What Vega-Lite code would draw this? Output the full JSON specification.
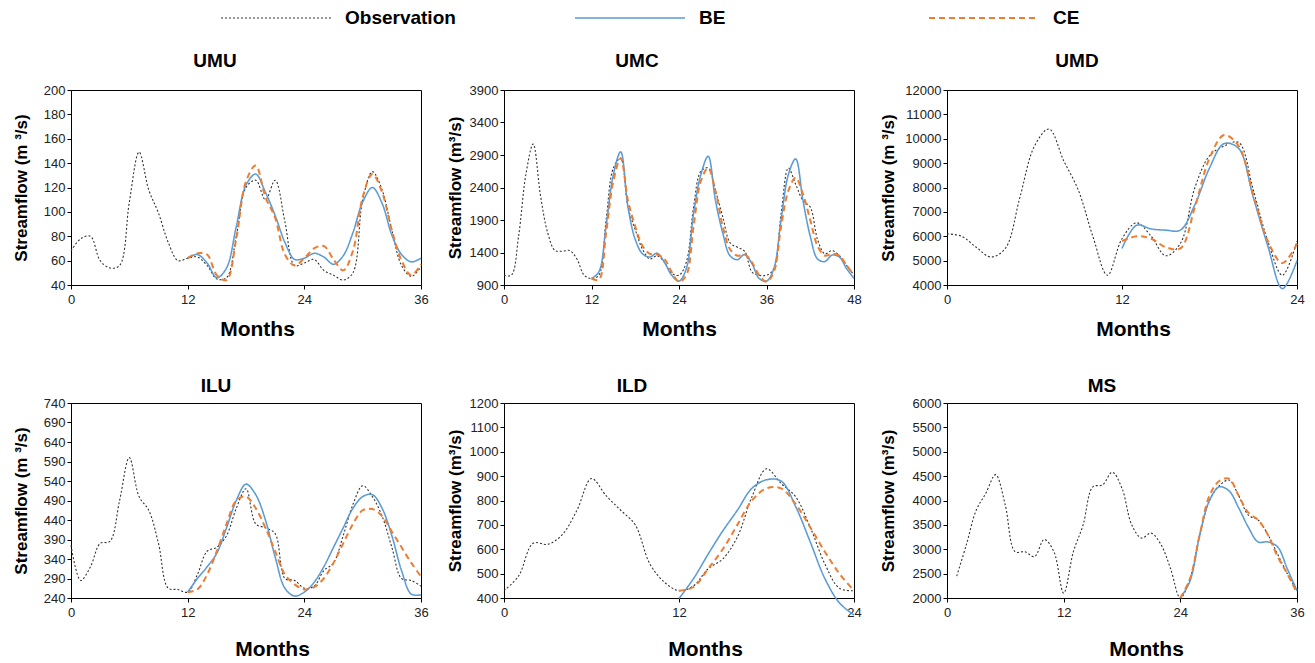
{
  "$schema": "https://vega.github.io/schema/vega-lite/v6.json",
  "background": "white",
  "padding": {"left": 11, "top": 8, "right": 5, "bottom": 5},
  "datasets": {
    "flow": [
      {"panel":"UMU","series":"Observation","month":0,"flow":68},{"panel":"UMU","series":"Observation","month":1,"flow":78},{"panel":"UMU","series":"Observation","month":2,"flow":80},{"panel":"UMU","series":"Observation","month":3,"flow":60},{"panel":"UMU","series":"Observation","month":4,"flow":54},{"panel":"UMU","series":"Observation","month":5,"flow":56},{"panel":"UMU","series":"Observation","month":6,"flow":108},{"panel":"UMU","series":"Observation","month":7,"flow":149},{"panel":"UMU","series":"Observation","month":8,"flow":118},{"panel":"UMU","series":"Observation","month":9,"flow":99},{"panel":"UMU","series":"Observation","month":10,"flow":75},{"panel":"UMU","series":"Observation","month":11,"flow":60},{"panel":"UMU","series":"Observation","month":12,"flow":62},{"panel":"UMU","series":"Observation","month":13,"flow":63},{"panel":"UMU","series":"Observation","month":14,"flow":56},{"panel":"UMU","series":"Observation","month":15,"flow":45},{"panel":"UMU","series":"Observation","month":16,"flow":46},{"panel":"UMU","series":"Observation","month":17,"flow":80},{"panel":"UMU","series":"Observation","month":18,"flow":120},{"panel":"UMU","series":"Observation","month":19,"flow":126},{"panel":"UMU","series":"Observation","month":20,"flow":110},{"panel":"UMU","series":"Observation","month":21,"flow":126},{"panel":"UMU","series":"Observation","month":22,"flow":92},{"panel":"UMU","series":"Observation","month":23,"flow":56},{"panel":"UMU","series":"Observation","month":24,"flow":58},{"panel":"UMU","series":"Observation","month":25,"flow":61},{"panel":"UMU","series":"Observation","month":26,"flow":52},{"panel":"UMU","series":"Observation","month":27,"flow":48},{"panel":"UMU","series":"Observation","month":28,"flow":44},{"panel":"UMU","series":"Observation","month":29,"flow":50},{"panel":"UMU","series":"Observation","month":30,"flow":110},{"panel":"UMU","series":"Observation","month":31,"flow":133},{"panel":"UMU","series":"Observation","month":32,"flow":118},{"panel":"UMU","series":"Observation","month":33,"flow":85},{"panel":"UMU","series":"Observation","month":34,"flow":56},{"panel":"UMU","series":"Observation","month":35,"flow":47},{"panel":"UMU","series":"Observation","month":36,"flow":55},
      {"panel":"UMU","series":"BE","month":12,"flow":62},{"panel":"UMU","series":"BE","month":13,"flow":65},{"panel":"UMU","series":"BE","month":14,"flow":58},{"panel":"UMU","series":"BE","month":15,"flow":46},{"panel":"UMU","series":"BE","month":16,"flow":54},{"panel":"UMU","series":"BE","month":17,"flow":88},{"panel":"UMU","series":"BE","month":18,"flow":122},{"panel":"UMU","series":"BE","month":19,"flow":131},{"panel":"UMU","series":"BE","month":20,"flow":116},{"panel":"UMU","series":"BE","month":21,"flow":97},{"panel":"UMU","series":"BE","month":22,"flow":75},{"panel":"UMU","series":"BE","month":23,"flow":61},{"panel":"UMU","series":"BE","month":24,"flow":62},{"panel":"UMU","series":"BE","month":25,"flow":66},{"panel":"UMU","series":"BE","month":26,"flow":63},{"panel":"UMU","series":"BE","month":27,"flow":57},{"panel":"UMU","series":"BE","month":28,"flow":64},{"panel":"UMU","series":"BE","month":29,"flow":83},{"panel":"UMU","series":"BE","month":30,"flow":108},{"panel":"UMU","series":"BE","month":31,"flow":120},{"panel":"UMU","series":"BE","month":32,"flow":107},{"panel":"UMU","series":"BE","month":33,"flow":81},{"panel":"UMU","series":"BE","month":34,"flow":65},{"panel":"UMU","series":"BE","month":35,"flow":59},{"panel":"UMU","series":"BE","month":36,"flow":62},
      {"panel":"UMU","series":"CE","month":12,"flow":62},{"panel":"UMU","series":"CE","month":13,"flow":66},{"panel":"UMU","series":"CE","month":14,"flow":65},{"panel":"UMU","series":"CE","month":15,"flow":48},{"panel":"UMU","series":"CE","month":16,"flow":44},{"panel":"UMU","series":"CE","month":17,"flow":78},{"panel":"UMU","series":"CE","month":18,"flow":125},{"panel":"UMU","series":"CE","month":19,"flow":138},{"panel":"UMU","series":"CE","month":20,"flow":112},{"panel":"UMU","series":"CE","month":21,"flow":95},{"panel":"UMU","series":"CE","month":22,"flow":65},{"panel":"UMU","series":"CE","month":23,"flow":56},{"panel":"UMU","series":"CE","month":24,"flow":62},{"panel":"UMU","series":"CE","month":25,"flow":70},{"panel":"UMU","series":"CE","month":26,"flow":72},{"panel":"UMU","series":"CE","month":27,"flow":61},{"panel":"UMU","series":"CE","month":28,"flow":52},{"panel":"UMU","series":"CE","month":29,"flow":68},{"panel":"UMU","series":"CE","month":30,"flow":112},{"panel":"UMU","series":"CE","month":31,"flow":131},{"panel":"UMU","series":"CE","month":32,"flow":116},{"panel":"UMU","series":"CE","month":33,"flow":85},{"panel":"UMU","series":"CE","month":34,"flow":60},{"panel":"UMU","series":"CE","month":35,"flow":48},{"panel":"UMU","series":"CE","month":36,"flow":57},

      {"panel":"UMC","series":"Observation","month":0,"flow":1050},{"panel":"UMC","series":"Observation","month":1,"flow":1050},{"panel":"UMC","series":"Observation","month":2,"flow":1650},{"panel":"UMC","series":"Observation","month":3,"flow":2600},{"panel":"UMC","series":"Observation","month":4,"flow":3070},{"panel":"UMC","series":"Observation","month":5,"flow":2280},{"panel":"UMC","series":"Observation","month":6,"flow":1700},{"panel":"UMC","series":"Observation","month":7,"flow":1430},{"panel":"UMC","series":"Observation","month":8,"flow":1420},{"panel":"UMC","series":"Observation","month":9,"flow":1430},{"panel":"UMC","series":"Observation","month":10,"flow":1300},{"panel":"UMC","series":"Observation","month":11,"flow":1050},{"panel":"UMC","series":"Observation","month":12,"flow":1000},{"panel":"UMC","series":"Observation","month":13,"flow":1050},{"panel":"UMC","series":"Observation","month":14,"flow":1900},{"panel":"UMC","series":"Observation","month":15,"flow":2700},{"panel":"UMC","series":"Observation","month":16,"flow":2850},{"panel":"UMC","series":"Observation","month":17,"flow":2100},{"panel":"UMC","series":"Observation","month":18,"flow":1750},{"panel":"UMC","series":"Observation","month":19,"flow":1450},{"panel":"UMC","series":"Observation","month":20,"flow":1300},{"panel":"UMC","series":"Observation","month":21,"flow":1350},{"panel":"UMC","series":"Observation","month":22,"flow":1250},{"panel":"UMC","series":"Observation","month":23,"flow":1080},{"panel":"UMC","series":"Observation","month":24,"flow":1050},{"panel":"UMC","series":"Observation","month":25,"flow":1250},{"panel":"UMC","series":"Observation","month":26,"flow":2100},{"panel":"UMC","series":"Observation","month":27,"flow":2650},{"panel":"UMC","series":"Observation","month":28,"flow":2700},{"panel":"UMC","series":"Observation","month":29,"flow":2350},{"panel":"UMC","series":"Observation","month":30,"flow":1950},{"panel":"UMC","series":"Observation","month":31,"flow":1550},{"panel":"UMC","series":"Observation","month":32,"flow":1480},{"panel":"UMC","series":"Observation","month":33,"flow":1420},{"panel":"UMC","series":"Observation","month":34,"flow":1100},{"panel":"UMC","series":"Observation","month":35,"flow":1050},{"panel":"UMC","series":"Observation","month":36,"flow":1050},{"panel":"UMC","series":"Observation","month":37,"flow":1150},{"panel":"UMC","series":"Observation","month":38,"flow":2000},{"panel":"UMC","series":"Observation","month":39,"flow":2700},{"panel":"UMC","series":"Observation","month":40,"flow":2450},{"panel":"UMC","series":"Observation","month":41,"flow":2200},{"panel":"UMC","series":"Observation","month":42,"flow":2100},{"panel":"UMC","series":"Observation","month":43,"flow":1600},{"panel":"UMC","series":"Observation","month":44,"flow":1380},{"panel":"UMC","series":"Observation","month":45,"flow":1430},{"panel":"UMC","series":"Observation","month":46,"flow":1350},{"panel":"UMC","series":"Observation","month":47,"flow":1200},{"panel":"UMC","series":"Observation","month":48,"flow":1050},
      {"panel":"UMC","series":"BE","month":12,"flow":1000},{"panel":"UMC","series":"BE","month":13,"flow":1100},{"panel":"UMC","series":"BE","month":14,"flow":1800},{"panel":"UMC","series":"BE","month":15,"flow":2600},{"panel":"UMC","series":"BE","month":16,"flow":2950},{"panel":"UMC","series":"BE","month":17,"flow":2100},{"panel":"UMC","series":"BE","month":18,"flow":1600},{"panel":"UMC","series":"BE","month":19,"flow":1380},{"panel":"UMC","series":"BE","month":20,"flow":1330},{"panel":"UMC","series":"BE","month":21,"flow":1390},{"panel":"UMC","series":"BE","month":22,"flow":1250},{"panel":"UMC","series":"BE","month":23,"flow":1050},{"panel":"UMC","series":"BE","month":24,"flow":960},{"panel":"UMC","series":"BE","month":25,"flow":1150},{"panel":"UMC","series":"BE","month":26,"flow":2000},{"panel":"UMC","series":"BE","month":27,"flow":2600},{"panel":"UMC","series":"BE","month":28,"flow":2880},{"panel":"UMC","series":"BE","month":29,"flow":2200},{"panel":"UMC","series":"BE","month":30,"flow":1700},{"panel":"UMC","series":"BE","month":31,"flow":1350},{"panel":"UMC","series":"BE","month":32,"flow":1290},{"panel":"UMC","series":"BE","month":33,"flow":1370},{"panel":"UMC","series":"BE","month":34,"flow":1230},{"panel":"UMC","series":"BE","month":35,"flow":1000},{"panel":"UMC","series":"BE","month":36,"flow":960},{"panel":"UMC","series":"BE","month":37,"flow":1150},{"panel":"UMC","series":"BE","month":38,"flow":1900},{"panel":"UMC","series":"BE","month":39,"flow":2600},{"panel":"UMC","series":"BE","month":40,"flow":2840},{"panel":"UMC","series":"BE","month":41,"flow":2200},{"panel":"UMC","series":"BE","month":42,"flow":1650},{"panel":"UMC","series":"BE","month":43,"flow":1300},{"panel":"UMC","series":"BE","month":44,"flow":1260},{"panel":"UMC","series":"BE","month":45,"flow":1360},{"panel":"UMC","series":"BE","month":46,"flow":1330},{"panel":"UMC","series":"BE","month":47,"flow":1150},{"panel":"UMC","series":"BE","month":48,"flow":1000},
      {"panel":"UMC","series":"CE","month":12,"flow":1000},{"panel":"UMC","series":"CE","month":13,"flow":980},{"panel":"UMC","series":"CE","month":14,"flow":1700},{"panel":"UMC","series":"CE","month":15,"flow":2500},{"panel":"UMC","series":"CE","month":16,"flow":2850},{"panel":"UMC","series":"CE","month":17,"flow":2200},{"panel":"UMC","series":"CE","month":18,"flow":1800},{"panel":"UMC","series":"CE","month":19,"flow":1500},{"panel":"UMC","series":"CE","month":20,"flow":1380},{"panel":"UMC","series":"CE","month":21,"flow":1370},{"panel":"UMC","series":"CE","month":22,"flow":1300},{"panel":"UMC","series":"CE","month":23,"flow":1100},{"panel":"UMC","series":"CE","month":24,"flow":950},{"panel":"UMC","series":"CE","month":25,"flow":1050},{"panel":"UMC","series":"CE","month":26,"flow":1800},{"panel":"UMC","series":"CE","month":27,"flow":2500},{"panel":"UMC","series":"CE","month":28,"flow":2700},{"panel":"UMC","series":"CE","month":29,"flow":2350},{"panel":"UMC","series":"CE","month":30,"flow":1800},{"panel":"UMC","series":"CE","month":31,"flow":1450},{"panel":"UMC","series":"CE","month":32,"flow":1350},{"panel":"UMC","series":"CE","month":33,"flow":1370},{"panel":"UMC","series":"CE","month":34,"flow":1250},{"panel":"UMC","series":"CE","month":35,"flow":1050},{"panel":"UMC","series":"CE","month":36,"flow":950},{"panel":"UMC","series":"CE","month":37,"flow":1100},{"panel":"UMC","series":"CE","month":38,"flow":1800},{"panel":"UMC","series":"CE","month":39,"flow":2350},{"panel":"UMC","series":"CE","month":40,"flow":2550},{"panel":"UMC","series":"CE","month":41,"flow":2300},{"panel":"UMC","series":"CE","month":42,"flow":1900},{"panel":"UMC","series":"CE","month":43,"flow":1500},{"panel":"UMC","series":"CE","month":44,"flow":1350},{"panel":"UMC","series":"CE","month":45,"flow":1380},{"panel":"UMC","series":"CE","month":46,"flow":1350},{"panel":"UMC","series":"CE","month":47,"flow":1200},{"panel":"UMC","series":"CE","month":48,"flow":1050},

      {"panel":"UMD","series":"Observation","month":0,"flow":6100},{"panel":"UMD","series":"Observation","month":1,"flow":6000},{"panel":"UMD","series":"Observation","month":2,"flow":5550},{"panel":"UMD","series":"Observation","month":3,"flow":5150},{"panel":"UMD","series":"Observation","month":4,"flow":5500},{"panel":"UMD","series":"Observation","month":5,"flow":7600},{"panel":"UMD","series":"Observation","month":6,"flow":9700},{"panel":"UMD","series":"Observation","month":7,"flow":10400},{"panel":"UMD","series":"Observation","month":8,"flow":9100},{"panel":"UMD","series":"Observation","month":9,"flow":7900},{"panel":"UMD","series":"Observation","month":10,"flow":6000},{"panel":"UMD","series":"Observation","month":11,"flow":4400},{"panel":"UMD","series":"Observation","month":12,"flow":5900},{"panel":"UMD","series":"Observation","month":13,"flow":6550},{"panel":"UMD","series":"Observation","month":14,"flow":6000},{"panel":"UMD","series":"Observation","month":15,"flow":5200},{"panel":"UMD","series":"Observation","month":16,"flow":5700},{"panel":"UMD","series":"Observation","month":17,"flow":8000},{"panel":"UMD","series":"Observation","month":18,"flow":9300},{"panel":"UMD","series":"Observation","month":19,"flow":9700},{"panel":"UMD","series":"Observation","month":20,"flow":9850},{"panel":"UMD","series":"Observation","month":21,"flow":7900},{"panel":"UMD","series":"Observation","month":22,"flow":5800},{"panel":"UMD","series":"Observation","month":23,"flow":4400},{"panel":"UMD","series":"Observation","month":24,"flow":5800},
      {"panel":"UMD","series":"BE","month":12,"flow":5500},{"panel":"UMD","series":"BE","month":13,"flow":6450},{"panel":"UMD","series":"BE","month":14,"flow":6300},{"panel":"UMD","series":"BE","month":15,"flow":6250},{"panel":"UMD","series":"BE","month":16,"flow":6250},{"panel":"UMD","series":"BE","month":17,"flow":7300},{"panel":"UMD","series":"BE","month":18,"flow":8800},{"panel":"UMD","series":"BE","month":19,"flow":9800},{"panel":"UMD","series":"BE","month":20,"flow":9600},{"panel":"UMD","series":"BE","month":21,"flow":7600},{"panel":"UMD","series":"BE","month":22,"flow":5600},{"panel":"UMD","series":"BE","month":23,"flow":3850},{"panel":"UMD","series":"BE","month":24,"flow":5000},
      {"panel":"UMD","series":"CE","month":12,"flow":5800},{"panel":"UMD","series":"CE","month":13,"flow":6000},{"panel":"UMD","series":"CE","month":14,"flow":5900},{"panel":"UMD","series":"CE","month":15,"flow":5550},{"panel":"UMD","series":"CE","month":16,"flow":5500},{"panel":"UMD","series":"CE","month":17,"flow":7200},{"panel":"UMD","series":"CE","month":18,"flow":9200},{"panel":"UMD","series":"CE","month":19,"flow":10150},{"panel":"UMD","series":"CE","month":20,"flow":9700},{"panel":"UMD","series":"CE","month":21,"flow":7700},{"panel":"UMD","series":"CE","month":22,"flow":5800},{"panel":"UMD","series":"CE","month":23,"flow":4900},{"panel":"UMD","series":"CE","month":24,"flow":5700},

      {"panel":"ILU","series":"Observation","month":0,"flow":375},{"panel":"ILU","series":"Observation","month":1,"flow":285},{"panel":"ILU","series":"Observation","month":2,"flow":320},{"panel":"ILU","series":"Observation","month":3,"flow":380},{"panel":"ILU","series":"Observation","month":4,"flow":385},{"panel":"ILU","series":"Observation","month":5,"flow":490},{"panel":"ILU","series":"Observation","month":6,"flow":600},{"panel":"ILU","series":"Observation","month":7,"flow":500},{"panel":"ILU","series":"Observation","month":8,"flow":465},{"panel":"ILU","series":"Observation","month":9,"flow":380},{"panel":"ILU","series":"Observation","month":10,"flow":265},{"panel":"ILU","series":"Observation","month":11,"flow":262},{"panel":"ILU","series":"Observation","month":12,"flow":255},{"panel":"ILU","series":"Observation","month":13,"flow":300},{"panel":"ILU","series":"Observation","month":14,"flow":360},{"panel":"ILU","series":"Observation","month":15,"flow":370},{"panel":"ILU","series":"Observation","month":16,"flow":400},{"panel":"ILU","series":"Observation","month":17,"flow":470},{"panel":"ILU","series":"Observation","month":18,"flow":520},{"panel":"ILU","series":"Observation","month":19,"flow":430},{"panel":"ILU","series":"Observation","month":20,"flow":420},{"panel":"ILU","series":"Observation","month":21,"flow":405},{"panel":"ILU","series":"Observation","month":22,"flow":290},{"panel":"ILU","series":"Observation","month":23,"flow":285},{"panel":"ILU","series":"Observation","month":24,"flow":265},{"panel":"ILU","series":"Observation","month":25,"flow":270},{"panel":"ILU","series":"Observation","month":26,"flow":310},{"panel":"ILU","series":"Observation","month":27,"flow":330},{"panel":"ILU","series":"Observation","month":28,"flow":400},{"panel":"ILU","series":"Observation","month":29,"flow":480},{"panel":"ILU","series":"Observation","month":30,"flow":528},{"panel":"ILU","series":"Observation","month":31,"flow":500},{"panel":"ILU","series":"Observation","month":32,"flow":450},{"panel":"ILU","series":"Observation","month":33,"flow":370},{"panel":"ILU","series":"Observation","month":34,"flow":290},{"panel":"ILU","series":"Observation","month":35,"flow":285},{"panel":"ILU","series":"Observation","month":36,"flow":270},
      {"panel":"ILU","series":"BE","month":12,"flow":255},{"panel":"ILU","series":"BE","month":13,"flow":290},{"panel":"ILU","series":"BE","month":14,"flow":320},{"panel":"ILU","series":"BE","month":15,"flow":355},{"panel":"ILU","series":"BE","month":16,"flow":420},{"panel":"ILU","series":"BE","month":17,"flow":490},{"panel":"ILU","series":"BE","month":18,"flow":532},{"panel":"ILU","series":"BE","month":19,"flow":505},{"panel":"ILU","series":"BE","month":20,"flow":440},{"panel":"ILU","series":"BE","month":21,"flow":345},{"panel":"ILU","series":"BE","month":22,"flow":265},{"panel":"ILU","series":"BE","month":23,"flow":245},{"panel":"ILU","series":"BE","month":24,"flow":255},{"panel":"ILU","series":"BE","month":25,"flow":280},{"panel":"ILU","series":"BE","month":26,"flow":320},{"panel":"ILU","series":"BE","month":27,"flow":370},{"panel":"ILU","series":"BE","month":28,"flow":420},{"panel":"ILU","series":"BE","month":29,"flow":470},{"panel":"ILU","series":"BE","month":30,"flow":500},{"panel":"ILU","series":"BE","month":31,"flow":505},{"panel":"ILU","series":"BE","month":32,"flow":470},{"panel":"ILU","series":"BE","month":33,"flow":400},{"panel":"ILU","series":"BE","month":34,"flow":310},{"panel":"ILU","series":"BE","month":35,"flow":250},{"panel":"ILU","series":"BE","month":36,"flow":248},
      {"panel":"ILU","series":"CE","month":12,"flow":255},{"panel":"ILU","series":"CE","month":13,"flow":262},{"panel":"ILU","series":"CE","month":14,"flow":300},{"panel":"ILU","series":"CE","month":15,"flow":360},{"panel":"ILU","series":"CE","month":16,"flow":430},{"panel":"ILU","series":"CE","month":17,"flow":490},{"panel":"ILU","series":"CE","month":18,"flow":500},{"panel":"ILU","series":"CE","month":19,"flow":470},{"panel":"ILU","series":"CE","month":20,"flow":420},{"panel":"ILU","series":"CE","month":21,"flow":360},{"panel":"ILU","series":"CE","month":22,"flow":300},{"panel":"ILU","series":"CE","month":23,"flow":275},{"panel":"ILU","series":"CE","month":24,"flow":262},{"panel":"ILU","series":"CE","month":25,"flow":268},{"panel":"ILU","series":"CE","month":26,"flow":290},{"panel":"ILU","series":"CE","month":27,"flow":330},{"panel":"ILU","series":"CE","month":28,"flow":380},{"panel":"ILU","series":"CE","month":29,"flow":430},{"panel":"ILU","series":"CE","month":30,"flow":465},{"panel":"ILU","series":"CE","month":31,"flow":468},{"panel":"ILU","series":"CE","month":32,"flow":450},{"panel":"ILU","series":"CE","month":33,"flow":410},{"panel":"ILU","series":"CE","month":34,"flow":370},{"panel":"ILU","series":"CE","month":35,"flow":330},{"panel":"ILU","series":"CE","month":36,"flow":295},

      {"panel":"ILD","series":"Observation","month":0,"flow":430},{"panel":"ILD","series":"Observation","month":1,"flow":490},{"panel":"ILD","series":"Observation","month":2,"flow":625},{"panel":"ILD","series":"Observation","month":3,"flow":620},{"panel":"ILD","series":"Observation","month":4,"flow":660},{"panel":"ILD","series":"Observation","month":5,"flow":760},{"panel":"ILD","series":"Observation","month":6,"flow":890},{"panel":"ILD","series":"Observation","month":7,"flow":820},{"panel":"ILD","series":"Observation","month":8,"flow":760},{"panel":"ILD","series":"Observation","month":9,"flow":700},{"panel":"ILD","series":"Observation","month":10,"flow":540},{"panel":"ILD","series":"Observation","month":11,"flow":465},{"panel":"ILD","series":"Observation","month":12,"flow":430},{"panel":"ILD","series":"Observation","month":13,"flow":450},{"panel":"ILD","series":"Observation","month":14,"flow":520},{"panel":"ILD","series":"Observation","month":15,"flow":560},{"panel":"ILD","series":"Observation","month":16,"flow":650},{"panel":"ILD","series":"Observation","month":17,"flow":815},{"panel":"ILD","series":"Observation","month":18,"flow":930},{"panel":"ILD","series":"Observation","month":19,"flow":870},{"panel":"ILD","series":"Observation","month":20,"flow":815},{"panel":"ILD","series":"Observation","month":21,"flow":690},{"panel":"ILD","series":"Observation","month":22,"flow":540},{"panel":"ILD","series":"Observation","month":23,"flow":440},{"panel":"ILD","series":"Observation","month":24,"flow":430},
      {"panel":"ILD","series":"BE","month":12,"flow":398},{"panel":"ILD","series":"BE","month":13,"flow":480},{"panel":"ILD","series":"BE","month":14,"flow":580},{"panel":"ILD","series":"BE","month":15,"flow":675},{"panel":"ILD","series":"BE","month":16,"flow":760},{"panel":"ILD","series":"BE","month":17,"flow":850},{"panel":"ILD","series":"BE","month":18,"flow":885},{"panel":"ILD","series":"BE","month":19,"flow":880},{"panel":"ILD","series":"BE","month":20,"flow":775},{"panel":"ILD","series":"BE","month":21,"flow":630},{"panel":"ILD","series":"BE","month":22,"flow":480},{"panel":"ILD","series":"BE","month":23,"flow":380},{"panel":"ILD","series":"BE","month":24,"flow":330},
      {"panel":"ILD","series":"CE","month":12,"flow":430},{"panel":"ILD","series":"CE","month":13,"flow":445},{"panel":"ILD","series":"CE","month":14,"flow":520},{"panel":"ILD","series":"CE","month":15,"flow":600},{"panel":"ILD","series":"CE","month":16,"flow":700},{"panel":"ILD","series":"CE","month":17,"flow":800},{"panel":"ILD","series":"CE","month":18,"flow":850},{"panel":"ILD","series":"CE","month":19,"flow":850},{"panel":"ILD","series":"CE","month":20,"flow":785},{"panel":"ILD","series":"CE","month":21,"flow":690},{"panel":"ILD","series":"CE","month":22,"flow":590},{"panel":"ILD","series":"CE","month":23,"flow":500},{"panel":"ILD","series":"CE","month":24,"flow":430},

      {"panel":"MS","series":"Observation","month":1,"flow":2450},{"panel":"MS","series":"Observation","month":2,"flow":3100},{"panel":"MS","series":"Observation","month":3,"flow":3800},{"panel":"MS","series":"Observation","month":4,"flow":4150},{"panel":"MS","series":"Observation","month":5,"flow":4530},{"panel":"MS","series":"Observation","month":6,"flow":3900},{"panel":"MS","series":"Observation","month":7,"flow":2950},{"panel":"MS","series":"Observation","month":8,"flow":2950},{"panel":"MS","series":"Observation","month":9,"flow":2850},{"panel":"MS","series":"Observation","month":10,"flow":3200},{"panel":"MS","series":"Observation","month":11,"flow":2950},{"panel":"MS","series":"Observation","month":12,"flow":2100},{"panel":"MS","series":"Observation","month":13,"flow":2950},{"panel":"MS","series":"Observation","month":14,"flow":3500},{"panel":"MS","series":"Observation","month":15,"flow":4280},{"panel":"MS","series":"Observation","month":16,"flow":4320},{"panel":"MS","series":"Observation","month":17,"flow":4580},{"panel":"MS","series":"Observation","month":18,"flow":4250},{"panel":"MS","series":"Observation","month":19,"flow":3500},{"panel":"MS","series":"Observation","month":20,"flow":3230},{"panel":"MS","series":"Observation","month":21,"flow":3330},{"panel":"MS","series":"Observation","month":22,"flow":3100},{"panel":"MS","series":"Observation","month":23,"flow":2600},{"panel":"MS","series":"Observation","month":24,"flow":2000},{"panel":"MS","series":"Observation","month":25,"flow":2400},{"panel":"MS","series":"Observation","month":26,"flow":3300},{"panel":"MS","series":"Observation","month":27,"flow":4000},{"panel":"MS","series":"Observation","month":28,"flow":4300},{"panel":"MS","series":"Observation","month":29,"flow":4420},{"panel":"MS","series":"Observation","month":30,"flow":4100},{"panel":"MS","series":"Observation","month":31,"flow":3700},{"panel":"MS","series":"Observation","month":32,"flow":3600},{"panel":"MS","series":"Observation","month":33,"flow":3300},{"panel":"MS","series":"Observation","month":34,"flow":2900},{"panel":"MS","series":"Observation","month":35,"flow":2500},{"panel":"MS","series":"Observation","month":36,"flow":2150},
      {"panel":"MS","series":"BE","month":24,"flow":2000},{"panel":"MS","series":"BE","month":25,"flow":2350},{"panel":"MS","series":"BE","month":26,"flow":3300},{"panel":"MS","series":"BE","month":27,"flow":4000},{"panel":"MS","series":"BE","month":28,"flow":4280},{"panel":"MS","series":"BE","month":29,"flow":4200},{"panel":"MS","series":"BE","month":30,"flow":3850},{"panel":"MS","series":"BE","month":31,"flow":3450},{"panel":"MS","series":"BE","month":32,"flow":3150},{"panel":"MS","series":"BE","month":33,"flow":3150},{"panel":"MS","series":"BE","month":34,"flow":3050},{"panel":"MS","series":"BE","month":35,"flow":2600},{"panel":"MS","series":"BE","month":36,"flow":2150},
      {"panel":"MS","series":"CE","month":24,"flow":2000},{"panel":"MS","series":"CE","month":25,"flow":2400},{"panel":"MS","series":"CE","month":26,"flow":3300},{"panel":"MS","series":"CE","month":27,"flow":4100},{"panel":"MS","series":"CE","month":28,"flow":4400},{"panel":"MS","series":"CE","month":29,"flow":4450},{"panel":"MS","series":"CE","month":30,"flow":4100},{"panel":"MS","series":"CE","month":31,"flow":3750},{"panel":"MS","series":"CE","month":32,"flow":3600},{"panel":"MS","series":"CE","month":33,"flow":3300},{"panel":"MS","series":"CE","month":34,"flow":2850},{"panel":"MS","series":"CE","month":35,"flow":2500},{"panel":"MS","series":"CE","month":36,"flow":2100}
    ]
  },
  "config": {
    "font": "Liberation Sans",
    "view": {"stroke": "#000", "strokeWidth": 1},
    "axis": {"grid": false, "domainColor": "#000", "domainWidth": 1, "tickColor": "#000", "tickSize": 4, "labelFont": "Liberation Sans", "labelFontSize": 13, "labelColor": "#222", "labelFlush": false, "labelOverlap": false, "titleFont": "Liberation Sans", "titleFontWeight": "bold", "titleColor": "#000"},
    "axisX": {"labelPadding": 4, "titleFontSize": 21, "titleBaseline": "middle"},
    "axisY": {"labelPadding": 2, "titleFontSize": 17, "titleBaseline": "middle", "titleAngle": 270, "titleAlign": "center", "format": "d"},
    "title": {"font": "Liberation Sans", "fontSize": 19, "fontWeight": "bold", "color": "#000", "anchor": "middle", "frame": "group"},
    "line": {"interpolate": "catmull-rom", "clip": true}
  },
  "columns": 3,
  "spacing": {"row": 36, "column": 16},
  "bounds": "full",
  "align": "each",
  "concat": [
    {
      "width": 350, "height": 195,
      "title": {"text": "UMU", "dx": -31, "offset": 13},
      "data": {"name": "flow"},
      "transform": [{"filter": "datum.panel === 'UMU'"}],
      "mark": {"type": "line"},
      "encoding": {
        "x": {"field": "month", "type": "quantitative", "scale": {"domain": [0, 36], "nice": false}, "axis": {"values": [0, 12, 24, 36], "title": "Months", "titleX": 186, "titleY": 44}},
        "y": {"field": "flow", "type": "quantitative", "scale": {"domain": [40, 200], "nice": false, "zero": false}, "axis": {"values": [40, 60, 80, 100, 120, 140, 160, 180, 200], "title": "Streamflow (m ³/s)", "titleX": -50}},
        "color": {"field": "series", "type": "nominal", "scale": {"domain": ["Observation", "BE", "CE"], "range": ["#333333", "#5B9BD5", "#ED7D31"]}, "legend": {"title": null, "orient": "none", "legendX": 149, "legendY": -82, "direction": "horizontal", "gridAlign": "all", "columnPadding": 118, "symbolType": "stroke", "symbolSize": 12100, "clipHeight": 20, "labelFont": "Liberation Sans", "labelFontSize": 19, "labelFontWeight": "bold", "labelColor": "#000", "labelOffset": 13, "labelLimit": 300}},
        "strokeDash": {"field": "series", "type": "nominal", "scale": {"domain": ["Observation", "BE", "CE"], "range": [[2, 2], [1, 0], [6, 4]]}},
        "strokeWidth": {"field": "series", "type": "nominal", "scale": {"domain": ["Observation", "BE", "CE"], "range": [1.1, 2, 2]}}
      }
    },
    {
      "width": 350, "height": 195,
      "title": {"text": "UMC", "dx": -42, "offset": 13},
      "data": {"name": "flow"},
      "transform": [{"filter": "datum.panel === 'UMC'"}],
      "mark": {"type": "line"},
      "encoding": {
        "x": {"field": "month", "type": "quantitative", "scale": {"domain": [0, 48], "nice": false}, "axis": {"values": [0, 12, 24, 36, 48], "title": "Months", "titleX": 175, "titleY": 44}},
        "y": {"field": "flow", "type": "quantitative", "scale": {"domain": [900, 3900], "nice": false, "zero": false}, "axis": {"values": [900, 1400, 1900, 2400, 2900, 3400, 3900], "title": "Streamflow (m³/s)", "titleX": -49}},
        "color": {"field": "series", "type": "nominal", "scale": {"domain": ["Observation", "BE", "CE"], "range": ["#333333", "#5B9BD5", "#ED7D31"]}, "legend": {"title": null, "orient": "none", "legendX": 149, "legendY": -82, "direction": "horizontal", "gridAlign": "all", "columnPadding": 118, "symbolType": "stroke", "symbolSize": 12100, "clipHeight": 20, "labelFont": "Liberation Sans", "labelFontSize": 19, "labelFontWeight": "bold", "labelColor": "#000", "labelOffset": 13, "labelLimit": 300}},
        "strokeDash": {"field": "series", "type": "nominal", "scale": {"domain": ["Observation", "BE", "CE"], "range": [[2, 2], [1, 0], [6, 4]]}},
        "strokeWidth": {"field": "series", "type": "nominal", "scale": {"domain": ["Observation", "BE", "CE"], "range": [1.1, 2, 2]}}
      }
    },
    {
      "width": 350, "height": 195,
      "title": {"text": "UMD", "dx": -45, "offset": 13},
      "data": {"name": "flow"},
      "transform": [{"filter": "datum.panel === 'UMD'"}],
      "mark": {"type": "line"},
      "encoding": {
        "x": {"field": "month", "type": "quantitative", "scale": {"domain": [0, 24], "nice": false}, "axis": {"values": [0, 12, 24], "title": "Months", "titleX": 186, "titleY": 44}},
        "y": {"field": "flow", "type": "quantitative", "scale": {"domain": [4000, 12000], "nice": false, "zero": false}, "axis": {"values": [4000, 5000, 6000, 7000, 8000, 9000, 10000, 11000, 12000], "title": "Streamflow (m ³/s)", "titleX": -59}},
        "color": {"field": "series", "type": "nominal", "scale": {"domain": ["Observation", "BE", "CE"], "range": ["#333333", "#5B9BD5", "#ED7D31"]}, "legend": {"title": null, "orient": "none", "legendX": 149, "legendY": -82, "direction": "horizontal", "gridAlign": "all", "columnPadding": 118, "symbolType": "stroke", "symbolSize": 12100, "clipHeight": 20, "labelFont": "Liberation Sans", "labelFontSize": 19, "labelFontWeight": "bold", "labelColor": "#000", "labelOffset": 13, "labelLimit": 300}},
        "strokeDash": {"field": "series", "type": "nominal", "scale": {"domain": ["Observation", "BE", "CE"], "range": [[2, 2], [1, 0], [6, 4]]}},
        "strokeWidth": {"field": "series", "type": "nominal", "scale": {"domain": ["Observation", "BE", "CE"], "range": [1.1, 2, 2]}}
      }
    },
    {
      "width": 350, "height": 195,
      "title": {"text": "ILU", "dx": -30, "offset": 1},
      "data": {"name": "flow"},
      "transform": [{"filter": "datum.panel === 'ILU'"}],
      "mark": {"type": "line"},
      "encoding": {
        "x": {"field": "month", "type": "quantitative", "scale": {"domain": [0, 36], "nice": false}, "axis": {"values": [0, 12, 24, 36], "title": "Months", "titleX": 201, "titleY": 51}},
        "y": {"field": "flow", "type": "quantitative", "scale": {"domain": [240, 740], "nice": false, "zero": false}, "axis": {"values": [240, 290, 340, 390, 440, 490, 540, 590, 640, 690, 740], "title": "Streamflow (m ³/s)", "titleX": -50}},
        "color": {"field": "series", "type": "nominal", "scale": {"domain": ["Observation", "BE", "CE"], "range": ["#333333", "#5B9BD5", "#ED7D31"]}, "legend": {"title": null, "orient": "none", "legendX": 149, "legendY": -82, "direction": "horizontal", "gridAlign": "all", "columnPadding": 118, "symbolType": "stroke", "symbolSize": 12100, "clipHeight": 20, "labelFont": "Liberation Sans", "labelFontSize": 19, "labelFontWeight": "bold", "labelColor": "#000", "labelOffset": 13, "labelLimit": 300}},
        "strokeDash": {"field": "series", "type": "nominal", "scale": {"domain": ["Observation", "BE", "CE"], "range": [[2, 2], [1, 0], [6, 4]]}},
        "strokeWidth": {"field": "series", "type": "nominal", "scale": {"domain": ["Observation", "BE", "CE"], "range": [1.1, 2, 2]}}
      }
    },
    {
      "width": 350, "height": 195,
      "title": {"text": "ILD", "dx": -47, "offset": 1},
      "data": {"name": "flow"},
      "transform": [{"filter": "datum.panel === 'ILD'"}],
      "mark": {"type": "line"},
      "encoding": {
        "x": {"field": "month", "type": "quantitative", "scale": {"domain": [0, 24], "nice": false}, "axis": {"values": [0, 12, 24], "title": "Months", "titleX": 201, "titleY": 51}},
        "y": {"field": "flow", "type": "quantitative", "scale": {"domain": [400, 1200], "nice": false, "zero": false}, "axis": {"values": [400, 500, 600, 700, 800, 900, 1000, 1100, 1200], "title": "Streamflow (m³/s)", "titleX": -49}},
        "color": {"field": "series", "type": "nominal", "scale": {"domain": ["Observation", "BE", "CE"], "range": ["#333333", "#5B9BD5", "#ED7D31"]}, "legend": {"title": null, "orient": "none", "legendX": 149, "legendY": -82, "direction": "horizontal", "gridAlign": "all", "columnPadding": 118, "symbolType": "stroke", "symbolSize": 12100, "clipHeight": 20, "labelFont": "Liberation Sans", "labelFontSize": 19, "labelFontWeight": "bold", "labelColor": "#000", "labelOffset": 13, "labelLimit": 300}},
        "strokeDash": {"field": "series", "type": "nominal", "scale": {"domain": ["Observation", "BE", "CE"], "range": [[2, 2], [1, 0], [6, 4]]}},
        "strokeWidth": {"field": "series", "type": "nominal", "scale": {"domain": ["Observation", "BE", "CE"], "range": [1.1, 2, 2]}}
      }
    },
    {
      "width": 350, "height": 195,
      "title": {"text": "MS", "dx": -20, "offset": 1},
      "data": {"name": "flow"},
      "transform": [{"filter": "datum.panel === 'MS'"}],
      "mark": {"type": "line"},
      "encoding": {
        "x": {"field": "month", "type": "quantitative", "scale": {"domain": [0, 36], "nice": false}, "axis": {"values": [0, 12, 24, 36], "title": "Months", "titleX": 199, "titleY": 51}},
        "y": {"field": "flow", "type": "quantitative", "scale": {"domain": [2000, 6000], "nice": false, "zero": false}, "axis": {"values": [2000, 2500, 3000, 3500, 4000, 4500, 5000, 5500, 6000], "title": "Streamflow (m³/s)", "titleX": -59}},
        "color": {"field": "series", "type": "nominal", "scale": {"domain": ["Observation", "BE", "CE"], "range": ["#333333", "#5B9BD5", "#ED7D31"]}, "legend": {"title": null, "orient": "none", "legendX": 149, "legendY": -82, "direction": "horizontal", "gridAlign": "all", "columnPadding": 118, "symbolType": "stroke", "symbolSize": 12100, "clipHeight": 20, "labelFont": "Liberation Sans", "labelFontSize": 19, "labelFontWeight": "bold", "labelColor": "#000", "labelOffset": 13, "labelLimit": 300}},
        "strokeDash": {"field": "series", "type": "nominal", "scale": {"domain": ["Observation", "BE", "CE"], "range": [[2, 2], [1, 0], [6, 4]]}},
        "strokeWidth": {"field": "series", "type": "nominal", "scale": {"domain": ["Observation", "BE", "CE"], "range": [1.1, 2, 2]}}
      }
    }
  ]
}
